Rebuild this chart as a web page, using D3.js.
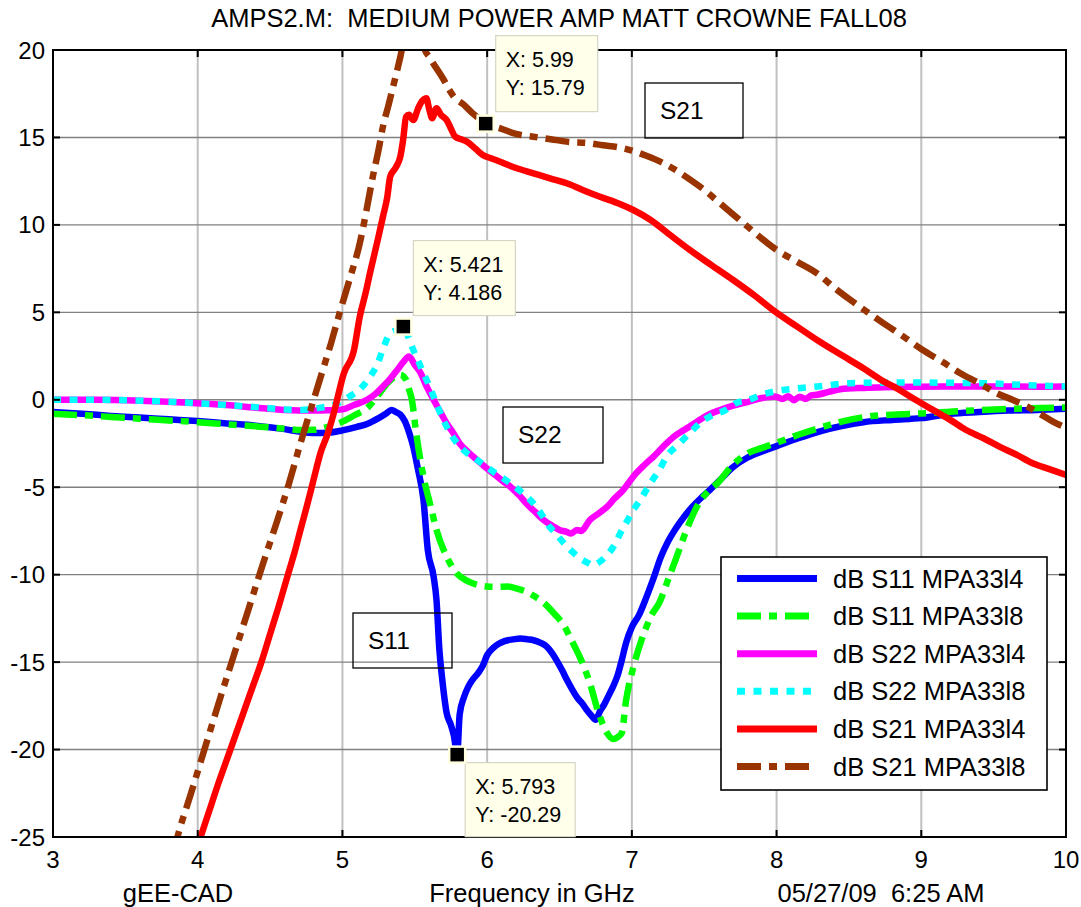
<!DOCTYPE html>
<html>
<head>
<meta charset="utf-8">
<script src="https://cdn.jsdelivr.net/npm/d3@7"></script>
<style>
  body { margin: 0; background: #fff; }
  svg { display: block; font-family: "Liberation Sans", Arial, sans-serif; }
  text { white-space: pre; }
</style>
</head>
<body>
<svg id="chart" width="1081" height="907"></svg>
<script>
// ---- axis ticks ----
const xTicks = [3, 4, 5, 6, 7, 8, 9, 10];
const yTicks = [20, 15, 10, 5, 0, -5, -10, -15, -20, -25];

// ---- dB S11 MPA33l4 ----
const s11L4Freq = [3.0,3.2,3.4,3.6,3.8,4.0,4.2,4.4,4.6,4.7,4.8,4.9,5.0,5.1,5.17,5.25,5.3,5.34,5.37,5.40,5.43,5.46,5.49,5.52,5.56,5.59,5.63,5.65,5.67,5.69,5.72,5.75,5.77,5.793,5.81,5.84,5.87,5.90,5.94,5.97,6.00,6.04,6.08,6.12,6.18,6.23,6.28,6.32,6.37,6.41,6.45,6.48,6.52,6.55,6.59,6.62,6.66,6.69,6.72,6.75,6.78,6.81,6.84,6.87,6.90,6.93,6.96,7.00,7.05,7.10,7.15,7.20,7.25,7.30,7.36,7.42,7.48,7.54,7.62,7.70,7.80,7.90,8.0,8.15,8.3,8.45,8.6,8.8,9.0,9.2,9.4,9.6,9.8,10.0];
const s11L4Db = [-0.70,-0.80,-0.92,-1.02,-1.12,-1.22,-1.35,-1.48,-1.68,-1.82,-1.90,-1.88,-1.75,-1.55,-1.38,-1.05,-0.80,-0.58,-0.70,-0.85,-1.20,-1.85,-2.70,-3.90,-5.73,-8.6,-10.1,-11.45,-14.3,-16.0,-17.9,-18.6,-19.2,-20.29,-18.0,-17.0,-16.4,-16.0,-15.6,-15.2,-14.6,-14.2,-13.95,-13.8,-13.7,-13.65,-13.7,-13.75,-13.9,-14.1,-14.5,-14.9,-15.5,-16.0,-16.6,-17.0,-17.4,-17.75,-18.05,-18.3,-17.8,-17.4,-16.9,-16.4,-15.8,-14.9,-13.9,-13.0,-12.3,-11.3,-10.2,-9.0,-8.1,-7.4,-6.7,-6.1,-5.6,-5.15,-4.5,-3.85,-3.3,-2.95,-2.65,-2.2,-1.8,-1.5,-1.28,-1.15,-1.05,-0.80,-0.70,-0.62,-0.58,-0.52];

// ---- dB S11 MPA33l8 ----
const s11L8Freq = [3.0,3.2,3.4,3.6,3.8,4.0,4.2,4.4,4.6,4.71,4.8,4.9,5.0,5.08,5.17,5.25,5.31,5.36,5.40,5.44,5.46,5.48,5.51,5.56,5.61,5.65,5.72,5.79,5.85,5.90,6.00,6.07,6.14,6.20,6.27,6.33,6.39,6.46,6.53,6.58,6.64,6.71,6.77,6.83,6.87,6.90,6.93,6.96,7.01,7.06,7.10,7.13,7.19,7.25,7.31,7.38,7.45,7.52,7.59,7.70,7.80,7.90,7.99,8.15,8.3,8.45,8.62,8.8,9.0,9.2,9.43,9.7,10.0];
const s11L8Db = [-0.80,-0.88,-0.98,-1.08,-1.18,-1.28,-1.40,-1.52,-1.65,-1.73,-1.72,-1.55,-1.25,-0.90,-0.48,0.30,0.95,1.30,1.43,1.14,0.60,0.0,-1.92,-4.4,-6.1,-7.44,-8.97,-9.92,-10.3,-10.49,-10.68,-10.7,-10.68,-10.78,-10.97,-11.25,-11.6,-12.2,-12.9,-13.7,-14.7,-16.2,-17.9,-19.07,-19.4,-19.3,-19.05,-17.2,-15.3,-13.9,-13.0,-12.4,-11.6,-10.3,-8.97,-7.4,-6.1,-5.3,-4.78,-3.7,-3.06,-2.75,-2.49,-2.0,-1.6,-1.25,-0.97,-0.85,-0.78,-0.68,-0.58,-0.50,-0.44];

// ---- dB S22 MPA33l4 ----
const s22L4Freq = [3.0,3.3,3.6,3.9,4.2,4.4,4.6,4.8,4.9,5.0,5.08,5.17,5.23,5.28,5.33,5.38,5.42,5.46,5.50,5.54,5.58,5.63,5.68,5.72,5.77,5.81,5.87,5.93,5.98,6.04,6.10,6.16,6.22,6.27,6.33,6.39,6.45,6.50,6.55,6.58,6.62,6.65,6.71,6.77,6.83,6.88,6.94,7.00,7.03,7.09,7.15,7.22,7.29,7.36,7.45,7.53,7.61,7.70,7.81,7.90,7.99,8.04,8.08,8.12,8.16,8.20,8.24,8.28,8.36,8.44,8.6,8.74,9.0,9.2,9.5,9.8,10.0];
const s22L4Db = [0.0,0.0,-0.05,-0.15,-0.30,-0.45,-0.58,-0.62,-0.60,-0.55,-0.30,0.0,0.35,0.76,1.20,1.72,2.15,2.47,2.0,1.53,0.80,0.0,-0.75,-1.34,-1.95,-2.49,-3.0,-3.44,-3.8,-4.2,-4.6,-4.97,-5.45,-5.92,-6.4,-6.87,-7.2,-7.44,-7.55,-7.65,-7.44,-7.5,-6.87,-6.5,-6.11,-5.65,-5.16,-4.5,-4.2,-3.7,-3.25,-2.65,-2.11,-1.73,-1.25,-0.85,-0.58,-0.33,-0.10,0.10,0.19,0.05,0.20,-0.02,0.18,0.05,0.25,0.29,0.45,0.60,0.68,0.72,0.75,0.76,0.76,0.75,0.76];

// ---- dB S22 MPA33l8 ----
const s22L8Freq = [3.0,3.3,3.6,3.9,4.2,4.4,4.6,4.71,4.85,4.94,5.05,5.12,5.19,5.24,5.28,5.33,5.38,5.421,5.46,5.49,5.53,5.56,5.60,5.63,5.70,5.76,5.84,5.93,6.04,6.16,6.24,6.32,6.38,6.43,6.48,6.53,6.59,6.64,6.69,6.73,6.78,6.83,6.88,6.92,6.97,7.01,7.06,7.10,7.15,7.19,7.24,7.33,7.40,7.47,7.55,7.65,7.72,7.81,7.90,7.99,8.14,8.28,8.51,8.75,8.97,9.2,9.43,9.7,10.0];
const s22L8Db = [0.0,0.0,-0.05,-0.15,-0.30,-0.42,-0.55,-0.58,-0.45,-0.29,0.19,0.60,1.32,2.0,2.9,3.8,4.0,4.186,3.5,2.85,2.1,1.52,0.8,0.19,-1.2,-2.11,-2.9,-3.44,-4.1,-4.78,-5.3,-5.92,-6.6,-7.25,-7.7,-8.2,-8.7,-9.06,-9.3,-9.45,-9.25,-8.87,-8.3,-7.63,-6.9,-6.3,-5.7,-5.16,-4.5,-4.0,-3.25,-2.49,-1.9,-1.34,-0.9,-0.58,-0.19,0.0,0.3,0.48,0.65,0.76,0.95,0.98,0.99,0.97,0.95,0.85,0.76];

// ---- dB S21 MPA33l4 ----
const s21L4Freq = [3.98,4.02,4.08,4.14,4.2,4.26,4.32,4.38,4.44,4.50,4.56,4.62,4.67,4.71,4.76,4.80,4.85,4.90,4.94,5.01,5.08,5.12,5.16,5.19,5.24,5.28,5.31,5.33,5.37,5.40,5.42,5.44,5.46,5.49,5.52,5.54,5.58,5.60,5.62,5.65,5.68,5.72,5.75,5.78,5.82,5.86,5.92,5.97,6.03,6.09,6.2,6.32,6.44,6.55,6.66,6.78,6.90,7.01,7.13,7.26,7.40,7.55,7.70,7.85,7.99,8.14,8.28,8.44,8.60,8.72,8.85,8.96,9.08,9.2,9.31,9.43,9.54,9.66,9.77,9.88,10.0];
const s21L4Db = [-26.0,-25.0,-23.5,-22.0,-20.6,-19.2,-17.8,-16.4,-15.0,-13.4,-11.8,-10.1,-8.7,-7.44,-5.9,-4.59,-3.0,-1.9,-0.77,1.52,2.85,4.76,6.1,7.23,9.0,10.47,11.6,12.76,13.3,13.9,14.9,16.19,16.3,16.0,16.6,16.95,17.24,16.6,16.1,16.67,16.3,16.0,15.5,15.04,14.9,14.76,14.35,14.0,13.8,13.61,13.25,12.95,12.65,12.38,12.0,11.61,11.25,10.85,10.28,9.45,8.57,7.7,6.85,5.95,5.04,4.2,3.42,2.6,1.80,1.15,0.56,0.0,-0.58,-1.15,-1.73,-2.2,-2.68,-3.15,-3.63,-3.95,-4.3];

// ---- dB S21 MPA33l8 ----
const s21L8Freq = [3.83,3.86,3.95,4.05,4.15,4.25,4.35,4.45,4.55,4.63,4.71,4.78,4.85,4.92,4.98,5.05,5.12,5.17,5.21,5.25,5.28,5.32,5.35,5.38,5.40,5.43,5.47,5.52,5.55,5.57,5.60,5.63,5.67,5.70,5.74,5.77,5.84,5.90,5.99,6.09,6.2,6.32,6.44,6.55,6.71,6.80,6.90,7.00,7.10,7.2,7.3,7.4,7.5,7.6,7.7,7.8,7.9,8.0,8.14,8.28,8.40,8.51,8.63,8.74,8.88,9.01,9.14,9.27,9.40,9.52,9.63,9.73,9.82,9.91,10.0];
const s21L8Db = [-26,-25,-22.6,-19.9,-17.2,-14.6,-12.0,-9.4,-6.9,-4.8,-2.49,-0.58,1.32,3.2,4.95,6.9,8.95,11.0,12.76,14.3,15.62,16.9,17.9,18.9,19.6,20.8,21.5,21.3,20.6,20.0,19.6,19.2,18.7,18.3,17.7,17.33,16.86,16.38,15.79,15.52,15.2,15.04,14.9,14.76,14.67,14.55,14.45,14.25,13.95,13.6,13.15,12.6,12.0,11.3,10.6,9.9,9.2,8.57,7.9,7.23,6.4,5.71,5.0,4.37,3.6,2.85,2.2,1.52,0.95,0.38,0.0,-0.38,-0.8,-1.25,-1.6];

// ---- legend labels and data tips ----
const seriesNames = ["dB S11 MPA33l4", "dB S11 MPA33l8", "dB S22 MPA33l4", "dB S22 MPA33l8", "dB S21 MPA33l4", "dB S21 MPA33l8"];
const tipFreq = [5.99, 5.421, 5.793];
const tipDb = [15.79, 4.186, -20.29];

// ---- layout ----
const W = 1081, H = 907;
const plot = { left: 53, right: 1066, top: 50, bottom: 837 };

const svg = d3.select("#chart");
const x = d3.scaleLinear().domain([3, 10]).range([plot.left, plot.right]);
const y = d3.scaleLinear().domain([-25, 20]).range([plot.bottom, plot.top]);

const series = [
  { name: seriesNames[0], f: s11L4Freq, v: s11L4Db, color: "#0000ff", dash: null },
  { name: seriesNames[1], f: s11L8Freq, v: s11L8Db, color: "#00ff00", dash: "24,8,8,8" },
  { name: seriesNames[2], f: s22L4Freq, v: s22L4Db, color: "#ff00ff", dash: null },
  { name: seriesNames[3], f: s22L8Freq, v: s22L8Db, color: "#00ffff", dash: "8,8.5" },
  { name: seriesNames[4], f: s21L4Freq, v: s21L4Db, color: "#ff0000", dash: null },
  { name: seriesNames[5], f: s21L8Freq, v: s21L8Db, color: "#993300", dash: "24,8,8,8" }
];

svg.append("rect").attr("width", W).attr("height", H).attr("fill", "#fff");

svg.append("defs").append("clipPath").attr("id", "plotClip")
  .append("rect")
  .attr("x", plot.left).attr("y", plot.top)
  .attr("width", plot.right - plot.left).attr("height", plot.bottom - plot.top);

// grid
const grid = svg.append("g");
grid.selectAll("line.vx").data(xTicks.slice(1, -1)).enter().append("line")
  .attr("x1", d => x(d)).attr("x2", d => x(d))
  .attr("y1", plot.top).attr("y2", plot.bottom)
  .attr("stroke", "#c0c0c0").attr("stroke-width", 2);
grid.selectAll("line.hy").data(yTicks.slice(1, -1)).enter().append("line")
  .attr("x1", plot.left).attr("x2", plot.right)
  .attr("y1", d => y(d)).attr("y2", d => y(d))
  .attr("stroke", "#808080").attr("stroke-width", 1.4);

// curves
const line = d3.line().x(d => x(d[0])).y(d => y(d[1])).curve(d3.curveMonotoneX);
const curves = svg.append("g").attr("clip-path", "url(#plotClip)");
series.forEach(s => {
  const pts = s.f.map((f, i) => [f, s.v[i]]);
  curves.append("path")
    .attr("d", line(pts))
    .attr("fill", "none")
    .attr("stroke", s.color)
    .attr("stroke-width", 6.5)
    .attr("stroke-linejoin", "round")
    .attr("stroke-linecap", "butt")
    .attr("stroke-dasharray", s.dash);
});

// axes box
const axes = svg.append("g");
axes.append("rect")
  .attr("x", plot.left).attr("y", plot.top)
  .attr("width", plot.right - plot.left).attr("height", plot.bottom - plot.top)
  .attr("fill", "none").attr("stroke", "#000").attr("stroke-width", 2);

// inward ticks on all four sides
const tl = 7;
xTicks.forEach(t => {
  axes.append("line").attr("x1", x(t)).attr("x2", x(t)).attr("y1", plot.bottom).attr("y2", plot.bottom - tl).attr("stroke", "#000").attr("stroke-width", 2);
  axes.append("line").attr("x1", x(t)).attr("x2", x(t)).attr("y1", plot.top).attr("y2", plot.top + tl).attr("stroke", "#000").attr("stroke-width", 2);
});
yTicks.forEach(t => {
  axes.append("line").attr("x1", plot.left).attr("x2", plot.left + tl).attr("y1", y(t)).attr("y2", y(t)).attr("stroke", "#000").attr("stroke-width", 2);
  axes.append("line").attr("x1", plot.right).attr("x2", plot.right - tl).attr("y1", y(t)).attr("y2", y(t)).attr("stroke", "#000").attr("stroke-width", 2);
});

// tick labels
axes.selectAll("text.xt").data(xTicks).enter().append("text")
  .attr("x", d => x(d)).attr("y", 868)
  .attr("text-anchor", "middle").attr("font-size", 24).attr("fill", "#000")
  .text(d => d);
axes.selectAll("text.yt").data(yTicks).enter().append("text")
  .attr("x", plot.left - 8).attr("y", d => y(d) + 8.5)
  .attr("text-anchor", "end").attr("font-size", 24).attr("fill", "#000")
  .text(d => d);

// title and bottom captions
svg.append("text").attr("x", 559).attr("y", 27).attr("text-anchor", "middle")
  .attr("font-size", 25.5).text("AMPS2.M:  MEDIUM POWER AMP MATT CROWNE FALL08");
svg.append("text").attr("x", 178).attr("y", 902).attr("text-anchor", "middle")
  .attr("font-size", 25.5).text("gEE-CAD");
svg.append("text").attr("x", 532).attr("y", 902).attr("text-anchor", "middle")
  .attr("font-size", 25.5).text("Frequency in GHz");
svg.append("text").attr("x", 881).attr("y", 902).attr("text-anchor", "middle")
  .attr("font-size", 25.5).text("05/27/09  6:25 AM");

// curve-group annotation boxes
const notes = [
  { label: "S21", x0: 645, y0: 83, w: 98, h: 55 },
  { label: "S22", x0: 503, y0: 407, w: 100, h: 56 },
  { label: "S11", x0: 353, y0: 613, w: 99, h: 55 }
];
notes.forEach(n => {
  const g = svg.append("g");
  g.append("rect").attr("x", n.x0).attr("y", n.y0).attr("width", n.w).attr("height", n.h)
    .attr("fill", "none").attr("stroke", "#000").attr("stroke-width", 1.3);
  g.append("text").attr("x", n.x0 + 15).attr("y", n.y0 + 36)
    .attr("font-size", 24.5).text(n.label);
});

// data tips
const tipOffsets = [[10, -88, 102, 76], [10, -86, 102, 75], [8, 8, 110, 74]];
tipFreq.forEach((f, i) => {
  const px = x(f), py = y(tipDb[i]);
  const [dx, dy, bw, bh] = tipOffsets[i];
  const g = svg.append("g");
  g.append("rect").attr("x", px + dx).attr("y", py + dy).attr("width", bw).attr("height", bh)
    .attr("fill", "#ffffea").attr("stroke", "#d6d6c6").attr("stroke-width", 1.2);
  g.append("text").attr("x", px + dx + 10).attr("y", py + dy + 31)
    .attr("font-size", 21.5).text("X: " + f);
  g.append("text").attr("x", px + dx + 10).attr("y", py + dy + 59)
    .attr("font-size", 21.5).text("Y: " + tipDb[i]);
  g.append("rect").attr("x", px - 8).attr("y", py - 8).attr("width", 16).attr("height", 16)
    .attr("fill", "#000").attr("stroke", "#ffffe0").attr("stroke-width", 2.5);
});

// legend
const lg = svg.append("g");
const lgBox = { x0: 721, y0: 557, w: 326, h: 233 };
lg.append("rect").attr("x", lgBox.x0).attr("y", lgBox.y0).attr("width", lgBox.w).attr("height", lgBox.h)
  .attr("fill", "#fff").attr("stroke", "#000").attr("stroke-width", 1.6);
series.forEach((s, i) => {
  const ry = 578.5 + i * 37.6;
  lg.append("line").attr("x1", 737).attr("x2", 817).attr("y1", ry).attr("y2", ry)
    .attr("stroke", s.color).attr("stroke-width", 7)
    .attr("stroke-dasharray", s.dash);
  lg.append("text").attr("x", 833).attr("y", ry + 9).attr("font-size", 25.5).text(s.name);
});
</script>
</body>
</html>
